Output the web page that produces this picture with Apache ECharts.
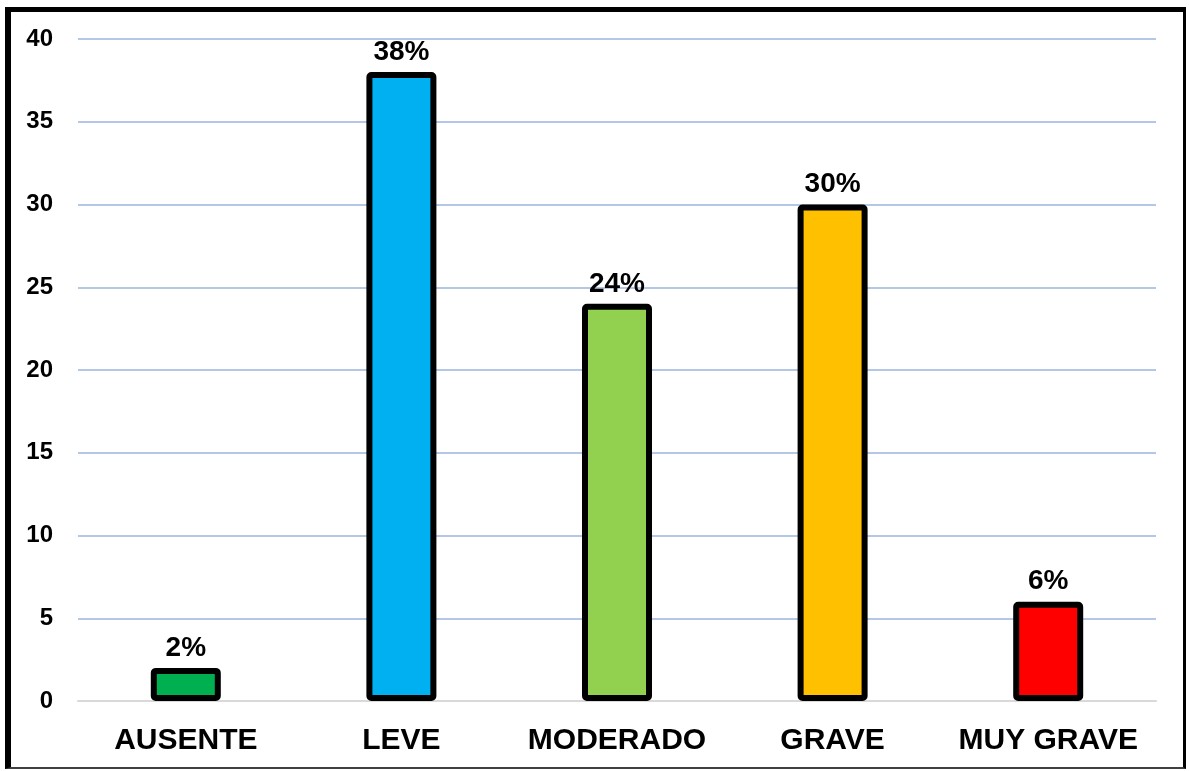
<!DOCTYPE html>
<html><head><meta charset="utf-8">
<script src="https://cdn.jsdelivr.net/npm/echarts@6/dist/echarts.min.js"></script>
<style>
html,body{margin:0;padding:0;background:#fff;}
#frame{position:absolute;left:5px;top:7px;width:1172px;height:755px;border-left:6px solid #000;border-top:5px solid #000;border-right:3px solid #000;border-bottom:2px solid #404040;}
#chart{position:absolute;left:0;top:0;width:1189px;height:771px;}
</style></head>
<body>
<div id="frame"></div>
<div id="chart"></div>
<script>
var categories = ['AUSENTE','LEVE','MODERADO','GRAVE','MUY GRAVE'];
var values = [2, 38, 24, 30, 6];
var colors = ['#00b050','#00b0f0','#92d050','#ffc000','#ff0000'];
var yTicks = {min:0, max:40, interval:5};

var chart = echarts.init(document.getElementById('chart'));
chart.setOption({
  animation:false,
  grid:{left:78, right:33, top:39, bottom:70, containLabel:false},
  xAxis:{type:'category', data:categories,
    axisLine:{show:true, lineStyle:{color:'#d9d9d9', width:2}},
    axisTick:{show:false},
    axisLabel:{interval:0, color:'#000', fontFamily:'Liberation Sans, Arial', fontWeight:'bold', fontSize:30, margin:25}
  },
  yAxis:{type:'value', min:yTicks.min, max:yTicks.max, interval:yTicks.interval,
    axisLine:{show:false}, axisTick:{show:false},
    splitLine:{lineStyle:{color:'#b4c7e7', width:2}},
    axisLabel:{color:'#000', fontFamily:'Liberation Sans, Arial', fontWeight:'bold', fontSize:24, margin:25}
  },
  series:[{type:'bar', barWidth:70,
    data: values.map(function(v,i){return {value:v, itemStyle:{color:colors[i]}};}),
    itemStyle:{borderColor:'#000', borderWidth:6, borderRadius:2},
    label:{show:true, position:'top', distance:6, formatter:'{c}%', color:'#000',
      fontFamily:'Liberation Sans, Arial', fontWeight:'bold', fontSize:28}
  }]
});
</script>
</body></html>
